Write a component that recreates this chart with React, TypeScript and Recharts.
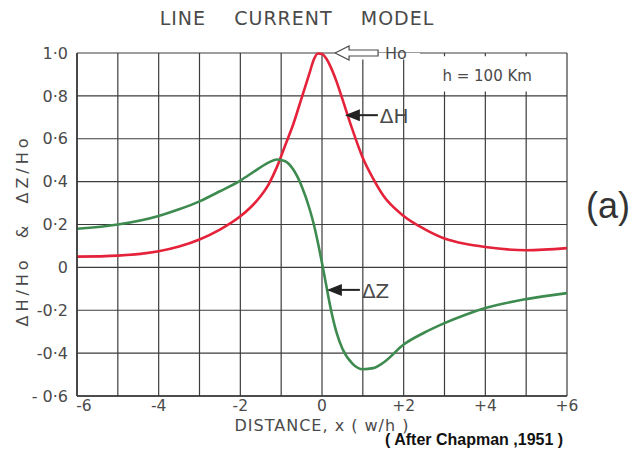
import { LineChart, Line, XAxis, YAxis, CartesianGrid, ReferenceDot, ReferenceArea } from "recharts";

// distance x (w/h) and normalised field components
const distance = [-6, -5, -4, -3.5, -3, -2.5, -2, -1.6, -1.3, -1.1, -0.9, -0.7, -0.5, -0.3, -0.2, -0.1, 0, 0.1, 0.2, 0.35, 0.5, 0.75, 1, 1.25, 1.5, 2, 2.5, 3, 3.5, 4, 5, 6];
const deltaH = [0.05, 0.055, 0.075, 0.097, 0.13, 0.176, 0.238, 0.31, 0.39, 0.47, 0.57, 0.67, 0.79, 0.91, 0.97, 0.998, 0.995, 0.975, 0.94, 0.87, 0.785, 0.64, 0.51, 0.415, 0.335, 0.24, 0.18, 0.135, 0.11, 0.095, 0.08, 0.09];
const deltaZ = [0.18, 0.2, 0.24, 0.271, 0.308, 0.355, 0.405, 0.455, 0.49, 0.503, 0.495, 0.455, 0.38, 0.27, 0.2, 0.115, 0.02, -0.08, -0.18, -0.3, -0.38, -0.45, -0.475, -0.47, -0.445, -0.36, -0.305, -0.26, -0.222, -0.19, -0.148, -0.12];

const xTicks = [-6, -5, -4, -3, -2, -1, 0, 1, 2, 3, 4, 5, 6];
const xTickLabels = ["-6", "", "-4", "", "-2", "", "0", "", "+2", "", "+4", "", "+6"];
const yTicks = [-0.6, -0.4, -0.2, 0, 0.2, 0.4, 0.6, 0.8, 1.0];
const yTickLabels = ["- 0·6", "-0·4", "-0·2", "0", "0·2", "0·4", "0·6", "0·8", "1·0"];

const data = distance.map((x, i) => ({ x, dh: deltaH[i], dz: deltaZ[i] }));

const FONT = "'DejaVu Sans', sans-serif";
const INK = "#4a4a4a";
const RED = "#e4223a";
const GREEN = "#3e8b50";

function labelFor(ticks: number[], labels: string[], v: number) {
  const i = ticks.findIndex((t) => Math.abs(t - v) < 1e-9);
  return i >= 0 ? labels[i] : "";
}

function XTick({ x, y, payload }: any) {
  const text = labelFor(xTicks, xTickLabels, payload.value);
  // the leftmost label sits just inside the corner in the original
  const dx = payload.value === -6 ? 7 : 0;
  return (
    <text x={x + dx} y={y + 13} textAnchor="middle" fontFamily={FONT} fontSize={15.5} fill={INK}>{text}</text>
  );
}

function XTitle(props: any) {
  const { x, y, width } = props.viewBox;
  return (
    <text x={x + width / 2} y={y + 35} textAnchor="middle" fontFamily={FONT} fontSize={16} fill={INK} letterSpacing={1}>
      DISTANCE, x ( w/h )
    </text>
  );
}

function YTitle(props: any) {
  const { x, y, height } = props.viewBox;
  const cx = x + 22;
  const cy = y + height / 2 + 6;
  return (
    <text x={cx} y={cy} transform={`rotate(-90, ${cx}, ${cy})`} textAnchor="middle" dominantBaseline="central"
      fontFamily={FONT} fontSize={16} fill={INK} letterSpacing={4} style={{ whiteSpace: "pre" }}>
      {"ΔH/Ho  &  ΔZ/Ho"}
    </text>
  );
}

// open arrow pointing at the peak, labelled Ho
function HoArrow({ cx, cy }: any) {
  return (
    <g>
      <path d={`M${cx},${cy} L${cx + 14},${cy - 7} L${cx + 14},${cy - 3} L${cx + 43},${cy - 3} L${cx + 43},${cy + 3} L${cx + 14},${cy + 3} L${cx + 14},${cy + 7} Z`}
        fill="#fff" stroke={INK} strokeWidth={1.2} />
      <text x={cx + 50} y={cy + 6} fontFamily={FONT} fontSize={16} fill={INK}>Ho</text>
    </g>
  );
}

// solid arrow with a text tag
function TagArrow({ cx, cy, text }: any) {
  return (
    <g>
      <path d={`M${cx},${cy} L${cx + 15},${cy - 6} L${cx + 15},${cy + 6} Z`} fill="#222" />
      <line x1={cx + 14} y1={cy} x2={cx + 33} y2={cy} stroke="#222" strokeWidth={2} />
      <text x={cx + 35} y={cy + 8} fontFamily={FONT} fontSize={20} fill={INK}>{text}</text>
    </g>
  );
}

function HeightNote({ cx, cy }: any) {
  return (
    <text x={cx} y={cy} fontFamily={FONT} fontSize={15} fill={INK}>h = 100 Km</text>
  );
}

export default function App() {
  return (
    <div style={{ position: "absolute", left: 0, top: 0, width: 635, height: 456, background: "#fff" }}>
      <div style={{ position: "absolute", left: 0, top: 7, width: 594, textAlign: "center", fontFamily: FONT, fontSize: 19, color: INK, whiteSpace: "pre", letterSpacing: 1 }}>
        {"LINE    CURRENT    MODEL"}
      </div>
      <LineChart width={635} height={456} data={data} margin={{ top: 53, right: 68, bottom: 0, left: 0 }}>
        <CartesianGrid stroke="#3c3c3c" strokeWidth={1.2} />
        <XAxis
          dataKey="x"
          type="number"
          domain={[-6, 6]}
          ticks={xTicks}
          interval={0}
          height={60}
          tickLine={false}
          tickSize={0}
          axisLine={{ stroke: "#333", strokeWidth: 1.5 }}
          tick={XTick}
          label={XTitle}
        />
        <YAxis
          type="number"
          domain={[-0.6, 1.0]}
          ticks={yTicks}
          interval={0}
          width={77}
          tickLine={false}
          tickSize={0}
          tickMargin={9}
          axisLine={{ stroke: "#333", strokeWidth: 1.5 }}
          tick={{ fontSize: 16, fill: INK, fontFamily: FONT }}
          tickFormatter={(v) => labelFor(yTicks, yTickLabels, v)}
          label={YTitle}
        />
        <ReferenceArea x1={0.3} x2={2.4} y1={0.97} y2={1.0} fill="#fff" fillOpacity={1} stroke="none" ifOverflow="visible" />
        <ReferenceArea x1={2.6} x2={5.95} y1={0.82} y2={0.985} fill="#fff" fillOpacity={1} stroke="none" />
        <Line type="monotone" dataKey="dh" stroke={RED} strokeWidth={2.6} dot={false} isAnimationActive={false} />
        <Line type="monotone" dataKey="dz" stroke={GREEN} strokeWidth={2.6} dot={false} isAnimationActive={false} />
        <ReferenceDot x={0.32} y={1.0} r={0} shape={(p: any) => <HoArrow {...p} />} />
        <ReferenceDot x={0.56} y={0.71} r={0} shape={(p: any) => <TagArrow {...p} text="ΔH" />} />
        <ReferenceDot x={0.12} y={-0.105} r={0} shape={(p: any) => <TagArrow {...p} text="ΔZ" />} />
        <ReferenceDot x={2.95} y={0.87} r={0} shape={(p: any) => <HeightNote {...p} />} />
      </LineChart>
      <div style={{ position: "absolute", left: 586, top: 188, fontFamily: "'Liberation Sans', Arial, sans-serif", fontSize: 36, lineHeight: "36px", color: "#333" }}>
        (a)
      </div>
      <div style={{ position: "absolute", left: 385, top: 431, fontFamily: "'Liberation Sans', Arial, sans-serif", fontSize: 16, fontWeight: "bold", color: "#111", whiteSpace: "pre" }}>
        {"( After Chapman ,1951 )"}
      </div>
    </div>
  );
}
